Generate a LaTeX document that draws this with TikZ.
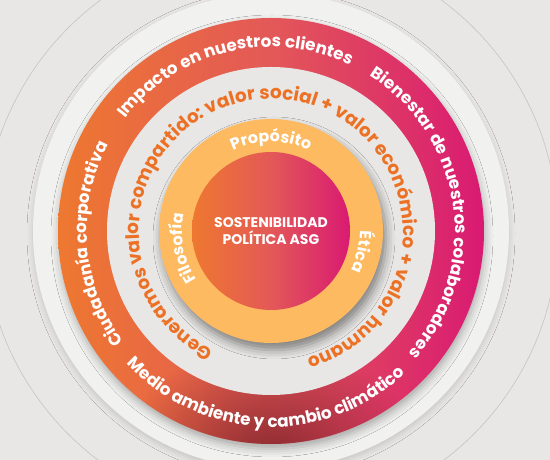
\documentclass[tikz,border=0pt]{standalone}
\usepackage{fontspec}
\newfontfamily\popfont{Poppins}
\usepackage{tikz}
\usetikzlibrary{decorations.text,shadows.blur,fadings,positioning}
\definecolor{bggray}{HTML}{E8E7E5}
\definecolor{halo}{HTML}{F1F1EF}
\definecolor{linegray}{HTML}{C4C4C2}
\definecolor{midgray}{HTML}{E8E7E5}
\definecolor{ringorange}{HTML}{EE7830}
\definecolor{ringcoral}{HTML}{E35858}
\definecolor{ringmag}{HTML}{D91A72}
\definecolor{ringdark}{HTML}{7A2028}
\definecolor{yelring}{HTML}{FDBA60}
\definecolor{valororange}{HTML}{EC7124}
\newcommand\ringfont{\popfont\bfseries\fontsize{16.8}{16.8}\selectfont}
\newcommand\midfont{\popfont\bfseries\fontsize{18.5}{18.5}\selectfont}
\newcommand\yelfont{\popfont\bfseries\fontsize{16}{16}\selectfont}
\tikzfading[name=bottomspot, inner color=transparent!15, outer color=transparent!100]
\tikzstyle{whitetext}=[decorate, decoration={text along path, text align=center, text color=white}]
\tikzstyle{orangetext}=[decorate, decoration={text along path, text align=center, text color=valororange}]

\begin{document}
\begin{tikzpicture}
\useasboundingbox (0,0) rectangle (550pt,460pt);
\fill[bggray] (0,0) rectangle (550pt,460pt);
\coordinate (c) at (271pt,229pt);

\draw[linegray, line width=0.6pt] (c) circle (287pt);
\fill[halo, blur shadow={shadow xshift=0pt, shadow yshift=-3pt, shadow blur radius=6pt, shadow opacity=15}] (c) circle (238pt);
\shade[left color=ringorange, right color=ringmag, middle color=ringcoral,
  blur shadow={shadow xshift=1pt, shadow yshift=-5pt, shadow blur radius=8pt, shadow opacity=30}] (c) circle (213pt);
\begin{scope}
\clip (c) circle (213pt);
\fill[ringdark, path fading=bottomspot] ([yshift=-230pt]c) ellipse (150pt and 120pt);
\end{scope}
\fill[midgray] (c) circle (164pt);
\fill[yelring, blur shadow={shadow xshift=3pt, shadow yshift=-7pt, shadow blur radius=9pt, shadow opacity=45}] (c) circle (112pt);
\shade[left color=ringorange, right color=ringmag, middle color=ringcoral] (c) circle (79pt);
\node[align=center, text=white, font=\popfont\bfseries\fontsize{14}{16.5}\selectfont] (asg) at (c) {SOSTENIBILIDAD\\POLÍTICA ASG};

\path[whitetext, decoration={text={|\ringfont|Impacto en nuestros clientes}}]
  ([shift={(160:184pt)}]c) arc[start angle=160, end angle=47, radius=184pt];
\path[whitetext, decoration={text={|\ringfont|Bienestar de nuestros colaboradores}}]
  ([shift={(76:184pt)}]c) arc[start angle=76, end angle=-60, radius=184pt];
\path[whitetext, decoration={text={|\ringfont|Ciudadanía corporativa}}]
  ([shift={(230:184pt)}]c) arc[start angle=230, end angle=139, radius=184pt];
\path[whitetext, decoration={text={|\ringfont|Medio ambiente y cambio climático}}]
  ([shift={(203:196pt)}]c) arc[start angle=203, end angle=333, radius=196pt];

\path[orangetext, decoration={text={|\midfont|Generamos valor compartido: valor social + valor económico + valor humano}}]
  ([shift={(255:132pt)}]c) arc[start angle=255, end angle=-85, radius=132pt];

\path[whitetext, decoration={text={|\yelfont|Propósito}}]
  ([shift={(140:89pt)}]c) arc[start angle=140, end angle=40, radius=89pt];
\path[whitetext, decoration={text={|\yelfont|Filosofía}}]
  ([shift={(241:89pt)}]c) arc[start angle=241, end angle=141, radius=89pt];
\path[whitetext, decoration={text={|\yelfont|Ética}}]
  ([shift={(37:89pt)}]c) arc[start angle=37, end angle=-63, radius=89pt];
\end{tikzpicture}
\end{document}
